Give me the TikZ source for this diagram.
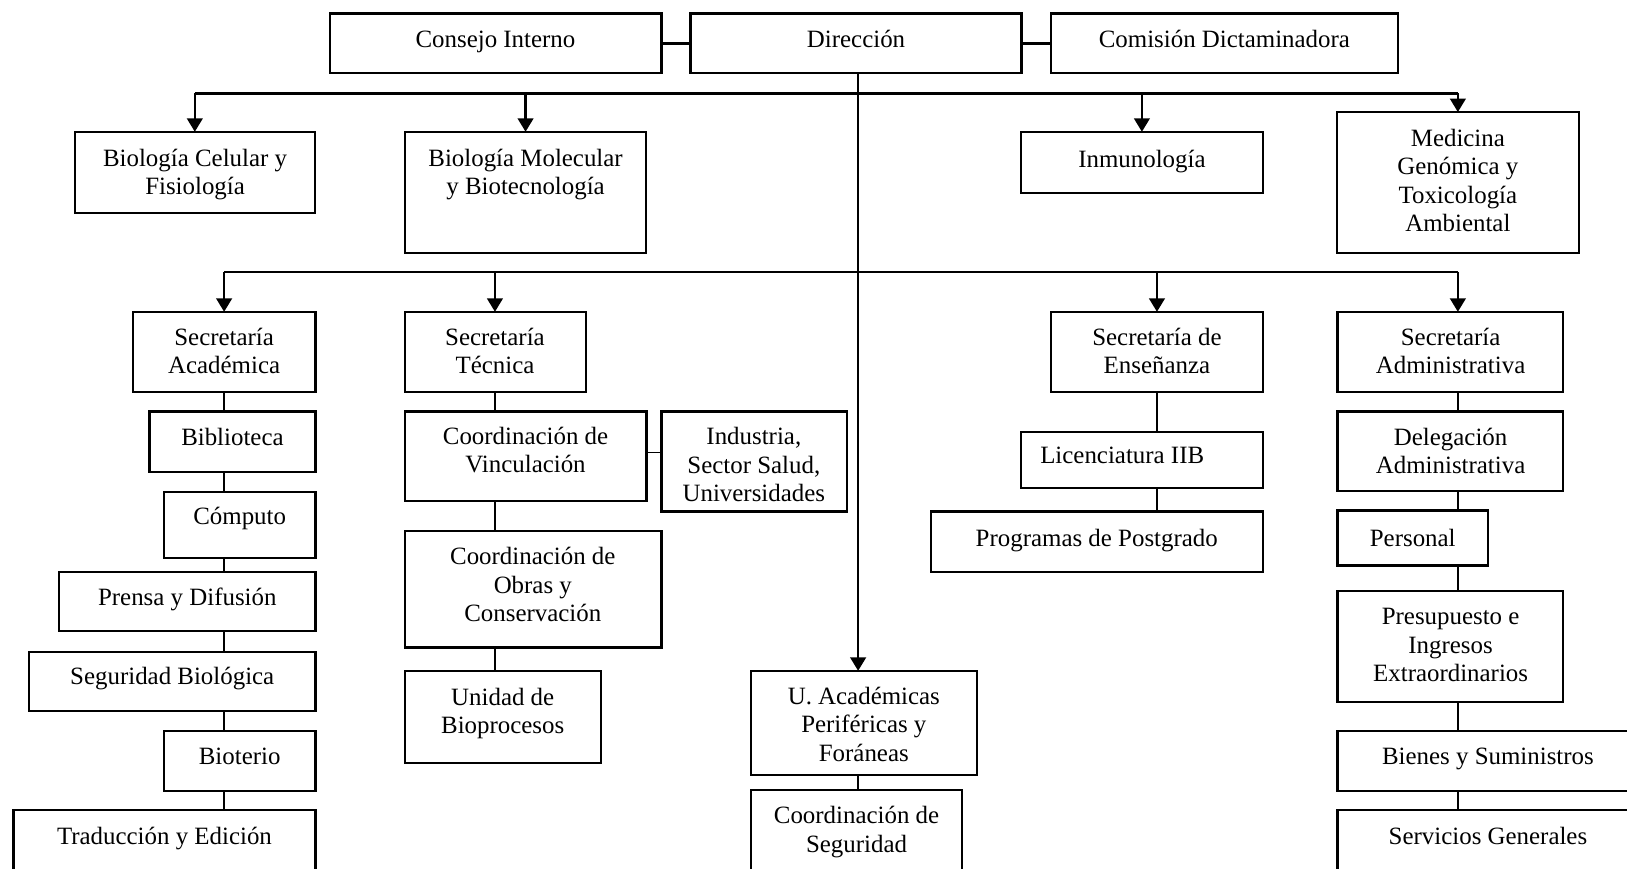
\documentclass[tikz,border=0pt]{standalone}
\usepackage{fontspec}
\setmainfont{Liberation Serif}
\usetikzlibrary{arrows.meta}

\tikzset{
  orgbox/.style={draw, line width=1.1pt, rectangle, inner sep=0pt, outer sep=0pt},
  orgtext/.style={inner sep=0pt, align=center, yshift=-1pt, font=\fontsize{12pt}{13.75pt}\selectfont},
  mainline/.style={line width=1.25pt},
  subline/.style={line width=0.75pt},
  arr/.style={-{Triangle[length=6.5pt,width=7.5pt]}},
}

% #1 name, #2-#5 corners (x1,y1,x2,y2), #6-#7 text centre, #8 text
\newcommand\orgbox[8]{%
  \node[orgbox, minimum width={(#4-#2)*0.5pt}, minimum height={(#5-#3)*0.5pt}]
    (#1) at ({(#2+#4)/2},{(#3+#5)/2}) {};
  \node[orgtext] (#1-t) at (#6,#7) {\strut #8\strut};}

\begin{document}
\begin{tikzpicture}[x=0.5pt, y=-0.5pt]
\useasboundingbox (0,0) rectangle (1568,837);
\clip (0,0) rectangle (1568,837);

% top row
\orgbox{consejo}{318}{13}{637.5}{70.5}{477.5}{38}{Consejo Interno}
\orgbox{direccion}{665.5}{13}{984.5}{70.5}{825}{38}{Dirección}
\orgbox{comision}{1013}{13}{1347.5}{70.5}{1180}{38}{Comisión Dictaminadora}

% departments
\orgbox{celular}{72}{127}{303.5}{205}{188}{166.5}{Biología Celular y\\Fisiología}
\orgbox{molecular}{390.5}{127}{622.5}{243.5}{506.5}{166.5}{Biología Molecular\\y Biotecnología}
\orgbox{inmuno}{984}{127}{1217}{186}{1100.5}{154}{Inmunología}
\orgbox{medicina}{1288.5}{108}{1521.5}{243.5}{1405}{174.5}{Medicina\\Genómica y\\Toxicología\\Ambiental}

% secretariats
\orgbox{secacad}{128.5}{300.5}{304}{377.5}{216}{339}{Secretaría\\Académica}
\orgbox{sectec}{390}{300.5}{564.5}{377.5}{477}{339}{Secretaría\\Técnica}
\orgbox{secens}{1013}{300.5}{1217}{377.5}{1115}{339}{Secretaría de\\Enseñanza}
\orgbox{secadm}{1289}{300.5}{1506.5}{377.5}{1398}{339}{Secretaría\\Administrativa}

% academic secretariat units
\orgbox{biblio}{144}{396.5}{304}{455}{224}{422}{Biblioteca}
\orgbox{computo}{158}{474}{304}{538}{231}{498}{Cómputo}
\orgbox{prensa}{57}{551}{304}{608}{180.5}{576}{Prensa y Difusión}
\orgbox{segbio}{28}{628}{304}{685}{166}{652}{Seguridad Biológica}
\orgbox{bioterio}{158}{704.5}{304}{762}{231}{729}{Bioterio}
\orgbox{traduccion}{13}{780.5}{304}{850}{158.5}{806.5}{Traducción y Edición}

% technical secretariat units
\orgbox{coordvinc}{390}{396.5}{623}{483}{506.5}{434.5}{Coordinación de\\Vinculación}
\orgbox{industria}{637.5}{396.5}{816}{493}{726.5}{448.5}{Industria,\\Sector Salud,\\Universidades}
\orgbox{coordobras}{390}{511.5}{637.5}{624}{513.5}{564}{Coordinación de\\Obras y\\Conservación}
\orgbox{unidad}{390}{646.5}{579.5}{735.5}{484.5}{686}{Unidad de\\Bioprocesos}

% peripheral units
\orgbox{uacad}{724}{646.5}{941.5}{747}{832.5}{698.5}{U. Académicas\\Periféricas y\\Foráneas}
\orgbox{coordseg}{724}{761.5}{927}{850}{825.5}{800}{Coordinación de\\Seguridad}

% teaching secretariat units
\orgbox{licen}{984}{416}{1217}{470.5}{1081.5}{439}{Licenciatura IIB}
\orgbox{programas}{897}{493}{1217}{551}{1057}{519}{Programas de Postgrado}

% administrative secretariat units
\orgbox{delegacion}{1289}{396.5}{1506.5}{473}{1398}{435.5}{Delegación\\Administrativa}
\orgbox{personal}{1289}{492}{1434}{545}{1361.5}{519}{Personal}
\orgbox{presupuesto}{1289}{569.5}{1506.5}{676.5}{1398}{622}{Presupuesto e\\Ingresos\\Extraordinarios}
\orgbox{bienes}{1289}{704.5}{1580}{762}{1434}{729.5}{Bienes y Suministros}
\orgbox{servicios}{1289}{780.5}{1580}{850}{1434}{806.5}{Servicios Generales}

% reference columns and bus rows
\coordinate (spx) at (827,0);
\coordinate (acx) at (216,0);
\coordinate (tcx) at (477,0);
\coordinate (ensx) at (1115,0);
\coordinate (admx) at (1405,0);
\coordinate (bus1) at (0,90);
\coordinate (bus2) at (0,262);
\coordinate (viny) at (0,436);

% top row links
\draw[mainline] (consejo.east) -- (direccion.west);
\draw[mainline] (direccion.east) -- (comision.west);

% main spine
\draw[mainline,arr] (direccion.south -| spx) -- (uacad.north -| spx);

% first bus: departments
\draw[mainline] (celular.north |- bus1) -- (medicina.north |- bus1);
\foreach \n in {celular,molecular,inmuno,medicina}
  \draw[mainline,arr] (\n.north |- bus1) -- (\n.north);

% second bus: secretariats
\draw[mainline] (acx |- bus2) -- (admx |- bus2);
\draw[mainline,arr] (acx |- bus2) -- (acx |- secacad.north);
\draw[mainline,arr] (tcx |- bus2) -- (tcx |- sectec.north);
\draw[mainline,arr] (ensx |- bus2) -- (ensx |- secens.north);
\draw[mainline,arr] (admx |- bus2) -- (admx |- secadm.north);

% column links
\foreach \a/\b in {secacad/biblio, biblio/computo, computo/prensa, prensa/segbio, segbio/bioterio, bioterio/traduccion}
  \draw[subline] (acx |- \a.south) -- (acx |- \b.north);
\foreach \a/\b in {sectec/coordvinc, coordvinc/coordobras, coordobras/unidad}
  \draw[subline] (tcx |- \a.south) -- (tcx |- \b.north);
\draw[subline] (coordvinc.east |- viny) -- (industria.west |- viny);
\draw[subline] (spx |- uacad.south) -- (spx |- coordseg.north);
\foreach \a/\b in {secens/licen, licen/programas}
  \draw[subline] (ensx |- \a.south) -- (ensx |- \b.north);
\foreach \a/\b in {secadm/delegacion, delegacion/personal, personal/presupuesto, presupuesto/bienes, bienes/servicios}
  \draw[subline] (admx |- \a.south) -- (admx |- \b.north);

\end{tikzpicture}
\end{document}
